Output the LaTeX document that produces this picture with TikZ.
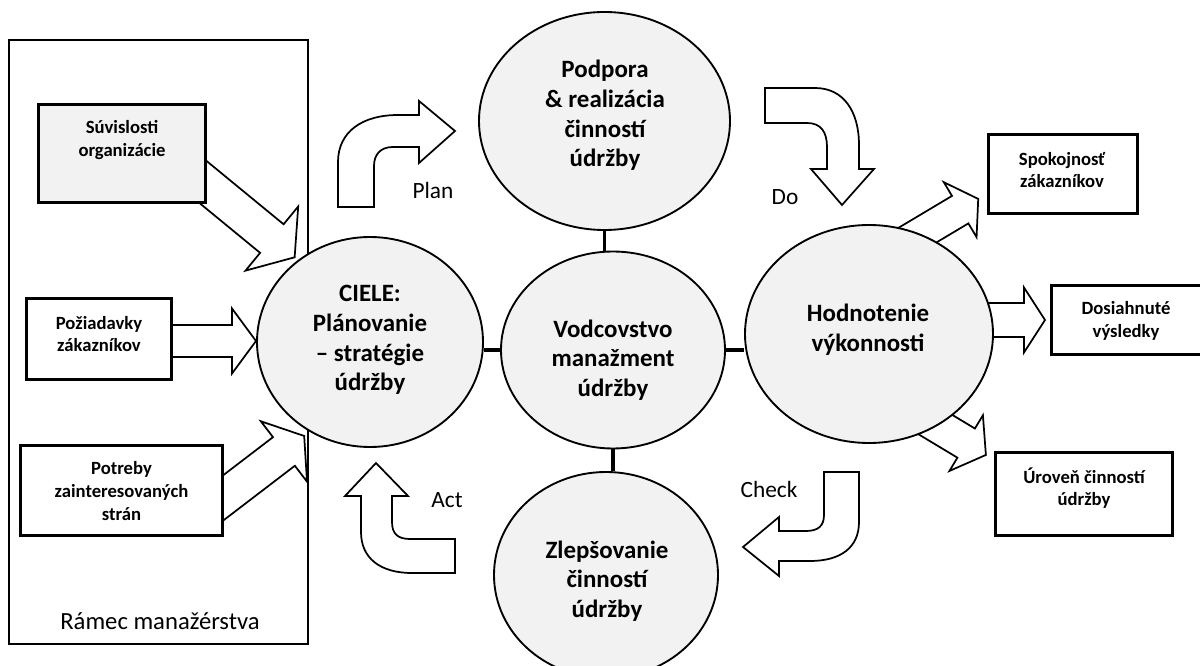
\documentclass[tikz,border=0pt]{standalone}
\usepackage{fontspec}
\setmainfont{Carlito}
\usetikzlibrary{shapes.geometric,calc}
\definecolor{ellfill}{HTML}{F2F2F2}
\tikzset{
  ell/.style={ellipse, draw=black, line width=1.4pt, fill=ellfill, inner sep=0pt},
  elltext/.style={font=\bfseries\fontsize{18.7}{22.3}\selectfont, align=center, inner sep=0pt},
  rbox/.style={rectangle, draw=black, line width=2.5pt, fill=white, inner sep=0pt},
  boxtext/.style={font=\bfseries\fontsize{14}{17}\selectfont, align=center, inner sep=0pt},
  blk/.style={draw=black, line width=1.3pt, fill=white, line join=miter},
  conn/.style={draw=black, line width=2.3pt},
  pdca/.style={font=\fontsize{17.5}{21}\selectfont, inner sep=0pt, anchor=base},
  mframe/.style={rectangle, draw=black, line width=1.3pt, inner sep=0pt},
}
% x, y, angle, shaft length, half shaft width, half head width, head length
\newcommand{\blockarrow}[7]{%
  \draw[blk, shift={(#1,#2)}, rotate=#3] (0,-#5) -- (#4,-#5) -- (#4,-#6) -- ({#4+#7},0) -- (#4,#6) -- (#4,#5) -- (0,#5) -- cycle;}
\begin{document}
\begin{tikzpicture}[x=0.75pt, y=-0.75pt]
\useasboundingbox (0,0) rectangle (1200,666);
\clip (0,0) rectangle (1200,666);

% management frame
\node[mframe, minimum width=299*0.75pt, minimum height=604*0.75pt] (ramec) at (158.5,342) {};
\node[font=\fontsize{18.5}{22}\selectfont, anchor=base, inner sep=0pt] (ramectext) at (160,629) {Rámec manažérstva};

% straight block arrows
\blockarrow{185.7}{167.8}{-39.4}{111.5}{18.5}{41.5}{29.5}
\blockarrow{150}{341}{0}{82}{16}{32.5}{24}
\blockarrow{203.7}{512.8}{37.4}{101}{18}{38}{25.5}
\blockarrow{893.7}{249.3}{30.8}{77.4}{16}{32}{21}
\blockarrow{960}{320}{0}{64}{17}{32.5}{21}
\blockarrow{900.6}{403.7}{-31}{76.5}{17}{32.5}{23}

% PDCA bent arrows
\draw[blk] (338,207) -- (338,162) .. controls (338,132) and (362,115) .. (398,115) -- (419,115) -- (419,101) -- (455,131) -- (419,163) -- (419,147) -- (393,147) .. controls (380,147) and (374,155) .. (374,166) -- (374,207) -- cycle;
\draw[blk] (765,88) -- (815,88) .. controls (844,88) and (859,112) .. (859,145) -- (859,169) -- (874,169) -- (842,205) -- (811,169) -- (827,169) -- (827,147) .. controls (827,132) and (821,123) .. (807,123) -- (765,123) -- cycle;
\draw[blk] (824,472) -- (859,472) -- (859,522) .. controls (859,548) and (840,561) .. (810,561) -- (779,561) -- (779,576) -- (743,547) -- (779,517) -- (779,531) -- (806,531) .. controls (818,531) and (824,526) .. (824,515) -- cycle;
\draw[blk] (376,463) -- (408,496) -- (392,496) -- (392,522) .. controls (392,534) and (398,539) .. (410,539) -- (455,539) -- (455,573) -- (412,573) .. controls (380,573) and (361,558) .. (361,532) -- (361,496) -- (345,496) -- cycle;

\node[pdca] (plan) at (433,199) {Plan};
\node[pdca] (do) at (785,205) {Do};
\node[pdca] (act) at (447,508) {Act};
\node[pdca] (check) at (769,498) {Check};

% input and output boxes
\node[rbox, fill=ellfill, minimum width=167*0.75pt, minimum height=98*0.75pt] (suv) at (122,153.5) {};
\node[rbox, minimum width=145*0.75pt, minimum height=81*0.75pt] (poz) at (99,339) {};
\node[rbox, minimum width=202*0.75pt, minimum height=90*0.75pt] (pot) at (121.5,490.5) {};
\node[rbox, minimum width=149*0.75pt, minimum height=79*0.75pt] (spo) at (1063,174) {};
\node[rbox, minimum width=151*0.75pt, minimum height=69*0.75pt] (dos) at (1127,320) {};
\node[rbox, minimum width=177*0.75pt, minimum height=83*0.75pt] (uro) at (1084,494) {};

\node[boxtext] (suvt) at (122,140) {Súvislosti\\organizácie};
\node[boxtext] (pozt) at (99,334) {Požiadavky\\zákazníkov};
\node[boxtext] (pott) at (121.5,491) {Potreby\\zainteresovaných\\strán};
\node[boxtext] (spot) at (1062,170) {Spokojnosť\\zákazníkov};
\node[boxtext] (dost) at (1126,321) {Dosiahnuté\\výsledky};
\node[boxtext] (urot) at (1084,488) {Úroveň činností\\údržby};

% ellipses
\node[ell, minimum width=226*0.75pt, minimum height=210*0.75pt] (ciele) at (370,342) {};
\node[ell, minimum width=251*0.75pt, minimum height=218*0.75pt] (pod) at (604.5,121) {};
\node[ell, minimum width=224*0.75pt, minimum height=197*0.75pt] (vod) at (613,350) {};
\node[ell, minimum width=248*0.75pt, minimum height=218*0.75pt] (hod) at (869,334) {};
\node[ell, minimum width=224*0.75pt, minimum height=206*0.75pt] (zlep) at (606,575) {};

% connectors
\draw[conn] (vod.west) -- (vod.west -| ciele.east);
\draw[conn] (vod.east) -- (vod.east -| hod.west);
\draw[conn] (pod.south) -- (pod.south |- vod.north);
\draw[conn] (vod.south) -- (vod.south |- zlep.north);

% ellipse texts
\node[elltext] (cielet) at (370,340) {CIELE:\\Plánovanie\\– stratégie\\údržby};
\node[elltext] (podt) at (605,115.5) {Podpora\\\& realizácia\\činností\\údržby};
\node[elltext] (vodt) at (613,360) {Vodcovstvo\\manažment\\údržby};
\node[elltext] (hodt) at (868,330) {Hodnotenie\\výkonnosti};
\node[elltext] (zlept) at (607,581) {Zlepšovanie\\činností\\údržby};
\end{tikzpicture}
\end{document}
